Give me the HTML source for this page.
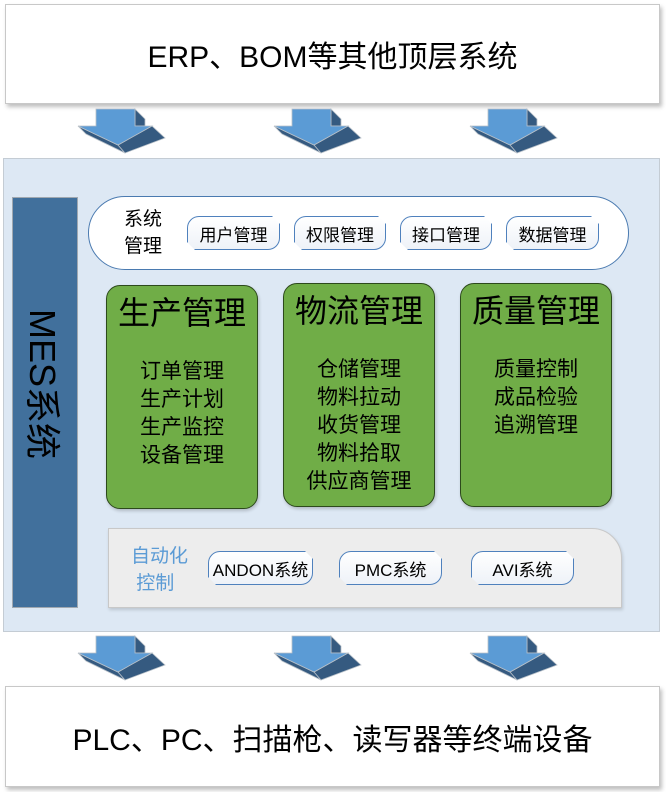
<!DOCTYPE html>
<html><head><meta charset="utf-8"><style>
*{margin:0;padding:0;box-sizing:border-box}
body{width:666px;height:792px;background:#fff;position:relative;overflow:hidden;font-family:"Liberation Sans","Noto Sans CJK SC",sans-serif;color:#000}
.a{position:absolute}
.big{background:#fff;border:1px solid #c8c8c8;box-shadow:2px 3px 4px rgba(0,0,0,.25);display:flex;align-items:center;justify-content:center;font-size:30px}
.btn{position:absolute;height:34px;border:1px solid #4f81bd;border-radius:12px 4px 12px 4px;background:linear-gradient(#fff,#eef2f8);font-size:17px;display:flex;align-items:center;justify-content:center;clip-path:polygon(0 0,calc(100% - 8px) 0,100% 8px,100% 100%,8px 100%,0 calc(100% - 8px))}
.g{position:absolute;background:#70ad47;border:1px solid #2d4a1c;border-radius:14px;text-align:center;box-shadow:1px 2px 3px rgba(0,0,0,.2)}
.g .t{font-size:32px;margin-top:8px;line-height:38px}
.g .i{font-size:21px;line-height:28px}
</style></head><body>
<div class="a big" style="left:5px;top:4px;width:655px;height:100px">ERP、BOM等其他顶层系统</div>
<div class="a" style="left:3px;top:158px;width:657px;height:474px;background:#dde8f4;border:1px solid #c4ccd4"></div>
<div class="a" style="left:12px;top:197px;width:66px;height:411px;background:#41709c;border:1px solid #a0a8b0"></div>
<div class="a" style="left:45px;top:384px;transform:translate(-50%,-50%) rotate(90deg);font-size:36px;color:#000;white-space:nowrap">MES系统</div>
<div class="a" style="left:88px;top:196px;width:541px;height:74px;background:#fff;border:1.5px solid #4a7ab0;border-radius:37px"></div>
<div class="a" style="left:124px;top:206px;font-size:19px;line-height:27px">系统<br>管理</div>
<div class="btn" style="left:187px;top:216px;width:93px">用户管理</div>
<div class="btn" style="left:294px;top:216px;width:92px">权限管理</div>
<div class="btn" style="left:400px;top:216px;width:92px">接口管理</div>
<div class="btn" style="left:506px;top:216px;width:93px">数据管理</div>
<div class="g" style="left:106px;top:285px;width:152px;height:224px"><div class="t">生产管理</div><div class="i" style="margin-top:26px">订单管理<br>生产计划<br>生产监控<br>设备管理</div></div>
<div class="g" style="left:283px;top:283px;width:152px;height:224px"><div class="t">物流管理</div><div class="i" style="margin-top:26px">仓储管理<br>物料拉动<br>收货管理<br>物料拾取<br>供应商管理</div></div>
<div class="g" style="left:460px;top:283px;width:152px;height:224px"><div class="t">质量管理</div><div class="i" style="margin-top:26px">质量控制<br>成品检验<br>追溯管理</div></div>
<div class="a" style="left:108px;top:528px;width:514px;height:80px;background:#ededed;border:1px solid #c8c8c8;border-radius:0 30px 0 0;box-shadow:1px 2px 3px rgba(0,0,0,.15)"></div>
<div class="a" style="left:131px;top:543px;font-size:19px;line-height:27px;color:#5b9bd5">自动化<br>&nbsp;控制</div>
<div class="btn" style="left:208px;top:551px;width:105px">ANDON系统</div>
<div class="btn" style="left:339px;top:551px;width:103px">PMC系统</div>
<div class="btn" style="left:471px;top:551px;width:103px">AVI系统</div>
<div class="a big" style="left:5px;top:686px;width:655px;height:101px">PLC、PC、扫描枪、读写器等终端设备</div>
<svg class="a" style="left:0;top:0" width="666" height="792">
<defs><g id="ar" stroke="#b8c0c8" stroke-width="0.8">
<polygon points="57,0 67,10 67,17 57,17" fill="#355a80"/>
<polygon points="0,17 40,36 47,44 8,25" fill="#355a80"/>
<polygon points="74,17 87,29 47,44 40,36" fill="#355a80"/>
<polygon points="18,0 57,0 57,17 74,17 40,36 0,17 18,17" fill="#5b9bd5"/>
</g></defs>
<use href="#ar" x="78" y="109"/>
<use href="#ar" x="274" y="109"/>
<use href="#ar" x="470" y="109"/>
<use href="#ar" x="78" y="636"/>
<use href="#ar" x="274" y="636"/>
<use href="#ar" x="470" y="636"/>
</svg>
</body></html>
